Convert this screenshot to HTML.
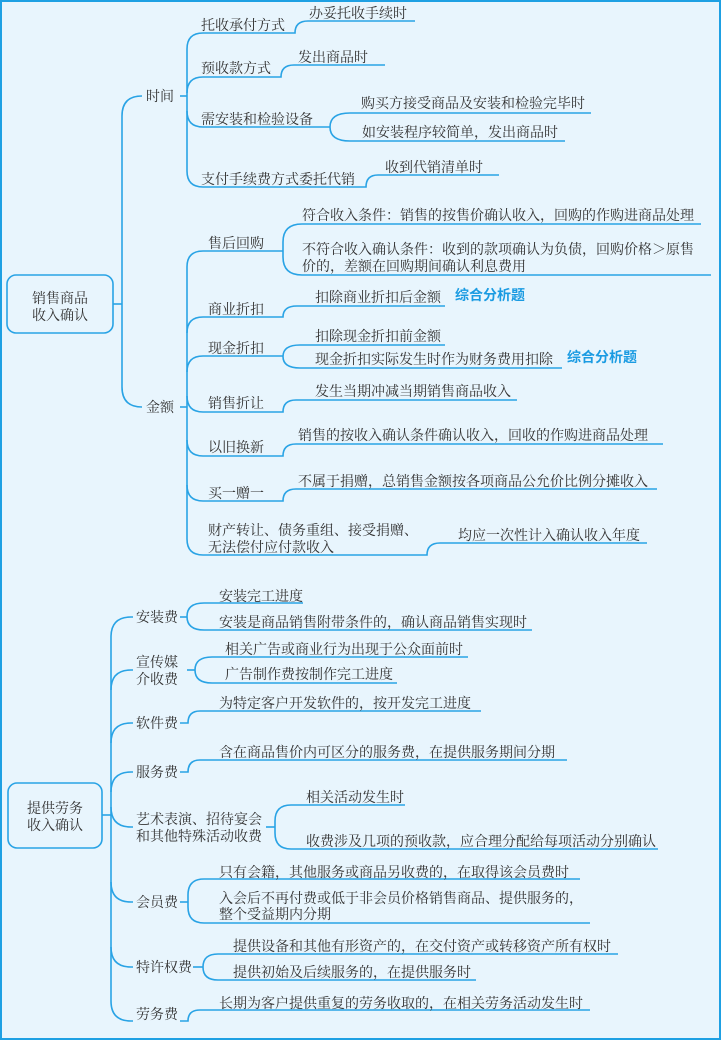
<!DOCTYPE html>
<html><head><meta charset="utf-8"><style>
html,body{margin:0;padding:0;background:#e8f5fd;}
svg{display:block;}
text{font-family:"Liberation Serif","Noto Serif CJK SC",serif;font-size:14px;fill:#333;}
.b{font-family:"Liberation Sans","Noto Sans CJK SC",sans-serif;font-weight:bold;fill:#1a9be2;font-size:14px;}
path,line{fill:none;stroke:#29a3e5;stroke-width:1.6;}
</style></head><body>
<svg width="721" height="1040" viewBox="0 0 721 1040" xmlns="http://www.w3.org/2000/svg">
<rect x="0" y="0" width="721" height="1040" fill="#e8f5fd"/>
<rect x="1" y="1" width="719" height="1038" fill="none" stroke="#1ea0e3" stroke-width="2"/>

<!-- ===== TOP SECTION ===== -->
<rect x="7" y="275" width="106" height="58" rx="9" fill="#e8f5fd" stroke="#29a3e5" stroke-width="1.6"/>
<text x="60" y="303" text-anchor="middle">销售商品</text>
<text x="60" y="320" text-anchor="middle">收入确认</text>
<path d="M113,304 H122"/>
<path d="M122,116 V387"/>
<path d="M122,116 Q122,96 142,96"/>
<path d="M122,387 Q122,407 142,407"/>
<text x="146" y="101">时间</text>
<text x="146" y="412">金额</text>
<path d="M180,96 H187"/>
<path d="M180,407 H187"/>

<!-- 时间 group -->
<path d="M187,49 V171"/>
<path d="M187,49 Q187,33 203,33 H295 Q295,21 308,21 H415"/>
<path d="M187,93 Q187,77 203,77 H281 Q281,65 294,65 H385"/>
<path d="M187,111 Q187,127 203,127 H330"/>
<path d="M591,113 H350 Q330,113 330,127 Q330,141 350,141 H565"/>
<path d="M187,171 Q187,187 203,187 H366 Q366,175 378,175 H499"/>
<text x="201" y="30">托收承付方式</text>
<text x="309" y="18">办妥托收手续时</text>
<text x="201" y="73">预收款方式</text>
<text x="298" y="62">发出商品时</text>
<text x="201" y="124">需安装和检验设备</text>
<text x="361" y="108">购买方接受商品及安装和检验完毕时</text>
<text x="362" y="137">如安装程序较简单，发出商品时</text>
<text x="201" y="184">支付手续费方式委托代销</text>
<text x="385" y="172">收到代销清单时</text>

<!-- 金额 group -->
<path d="M187,267 V539"/>
<path d="M187,267 Q187,251 203,251 H283"/>
<path d="M701,224 H302 Q283,224 283,242 V257 Q283,275 302,275 H711"/>
<path d="M187,333 Q187,317 203,317 H283 Q283,306 297,306 H445"/>
<path d="M187,372 Q187,356 203,356 H283"/>
<path d="M445,345 H300 Q283,345 283,356.5 Q283,368 300,368 H562"/>
<path d="M187,396 Q187,412 203,412 H283 Q283,400 296,400 H517"/>
<path d="M187,440 Q187,456 203,456 H283 Q283,444 296,444 H663"/>
<path d="M187,485 Q187,501 203,501 H283 Q283,489 296,489 H657"/>
<path d="M187,539 Q187,555 203,555 H427 Q427,543 440,543 H647"/>
<text x="208" y="248">售后回购</text>
<text x="302" y="220">符合收入条件：销售的按售价确认收入，回购的作购进商品处理</text>
<text x="302" y="254">不符合收入确认条件：收到的款项确认为负债，回购价格＞原售</text>
<text x="302" y="271">价的，差额在回购期间确认利息费用</text>
<text x="208" y="314">商业折扣</text>
<text x="315" y="302">扣除商业折扣后金额</text>
<text class="b" x="455" y="300">综合分析题</text>
<text x="208" y="353">现金折扣</text>
<text x="315" y="341">扣除现金折扣前金额</text>
<text x="315" y="364">现金折扣实际发生时作为财务费用扣除</text>
<text class="b" x="567" y="362">综合分析题</text>
<text x="208" y="408">销售折让</text>
<text x="315" y="396">发生当期冲减当期销售商品收入</text>
<text x="208" y="452">以旧换新</text>
<text x="298" y="440">销售的按收入确认条件确认收入，回收的作购进商品处理</text>
<text x="208" y="498">买一赠一</text>
<text x="298" y="486">不属于捐赠，总销售金额按各项商品公允价比例分摊收入</text>
<text x="208" y="535">财产转让、债务重组、接受捐赠、</text>
<text x="208" y="552">无法偿付应付款收入</text>
<text x="458" y="540">均应一次性计入确认收入年度</text>

<!-- ===== BOTTOM SECTION ===== -->
<rect x="8" y="783" width="94" height="65" rx="9" fill="#e8f5fd" stroke="#29a3e5" stroke-width="1.6"/>
<text x="55" y="813" text-anchor="middle">提供劳务</text>
<text x="55" y="830" text-anchor="middle">收入确认</text>
<path d="M102,815 H111"/>
<path d="M111,637 V1001"/>
<path d="M111,637 Q111,617 131,617 H133"/>
<path d="M111,690 Q111,670 131,670 H133"/>
<path d="M111,743 Q111,723 131,723 H133"/>
<path d="M111,792 Q111,772 131,772 H133"/>
<path d="M111,807 Q111,827 131,827 H133"/>
<path d="M111,882 Q111,902 131,902 H133"/>
<path d="M111,947 Q111,967 131,967 H133"/>
<path d="M111,1001 Q111,1021 131,1021 H133"/>

<text x="136" y="622">安装费</text>
<path d="M180,617 H187"/>
<path d="M303,603 H204 Q187,603 187,616.5 Q187,630 204,630 H532"/>
<text x="219" y="601">安装完工进度</text>
<text x="219" y="627">安装是商品销售附带条件的，确认商品销售实现时</text>

<text x="136" y="667">宣传媒</text>
<text x="136" y="684">介收费</text>
<path d="M187,670 H195"/>
<path d="M468,657 H212 Q195,657 195,670 Q195,683 212,683 H397"/>
<text x="225" y="654">相关广告或商业行为出现于公众面前时</text>
<text x="225" y="679">广告制作费按制作完工进度</text>

<text x="136" y="728">软件费</text>
<path d="M180,723 H188 Q188,711 200,711 H481"/>
<text x="219" y="708">为特定客户开发软件的，按开发完工进度</text>

<text x="136" y="777">服务费</text>
<path d="M180,772 H188 Q188,760 200,760 H567"/>
<text x="219" y="757">含在商品售价内可区分的服务费，在提供服务期间分期</text>

<text x="136" y="824">艺术表演、招待宴会</text>
<text x="136" y="841">和其他特殊活动收费</text>
<path d="M266,827 H275"/>
<path d="M405,805 H291 Q275,805 275,821 V833 Q275,849 291,849 H658"/>
<text x="306" y="802">相关活动发生时</text>
<text x="306" y="846">收费涉及几项的预收款，应合理分配给每项活动分别确认</text>

<text x="136" y="907">会员费</text>
<path d="M180,902 H188"/>
<path d="M580,879 H204 Q188,879 188,895 V907 Q188,923 204,923 H590"/>
<text x="219" y="877">只有会籍，其他服务或商品另收费的，在取得该会员费时</text>
<text x="219" y="903">入会后不再付费或低于非会员价格销售商品、提供服务的，</text>
<text x="219" y="919">整个受益期内分期</text>

<text x="136" y="972">特许权费</text>
<path d="M193,967 H203"/>
<path d="M618,954 H218 Q203,954 203,967 Q203,980 218,980 H476"/>
<text x="233" y="951">提供设备和其他有形资产的，在交付资产或转移资产所有权时</text>
<text x="233" y="977">提供初始及后续服务的，在提供服务时</text>

<text x="136" y="1019">劳务费</text>
<path d="M180,1021 H188 Q188,1010 200,1010 H590"/>
<text x="219" y="1008">长期为客户提供重复的劳务收取的，在相关劳务活动发生时</text>
</svg>
</body></html>
